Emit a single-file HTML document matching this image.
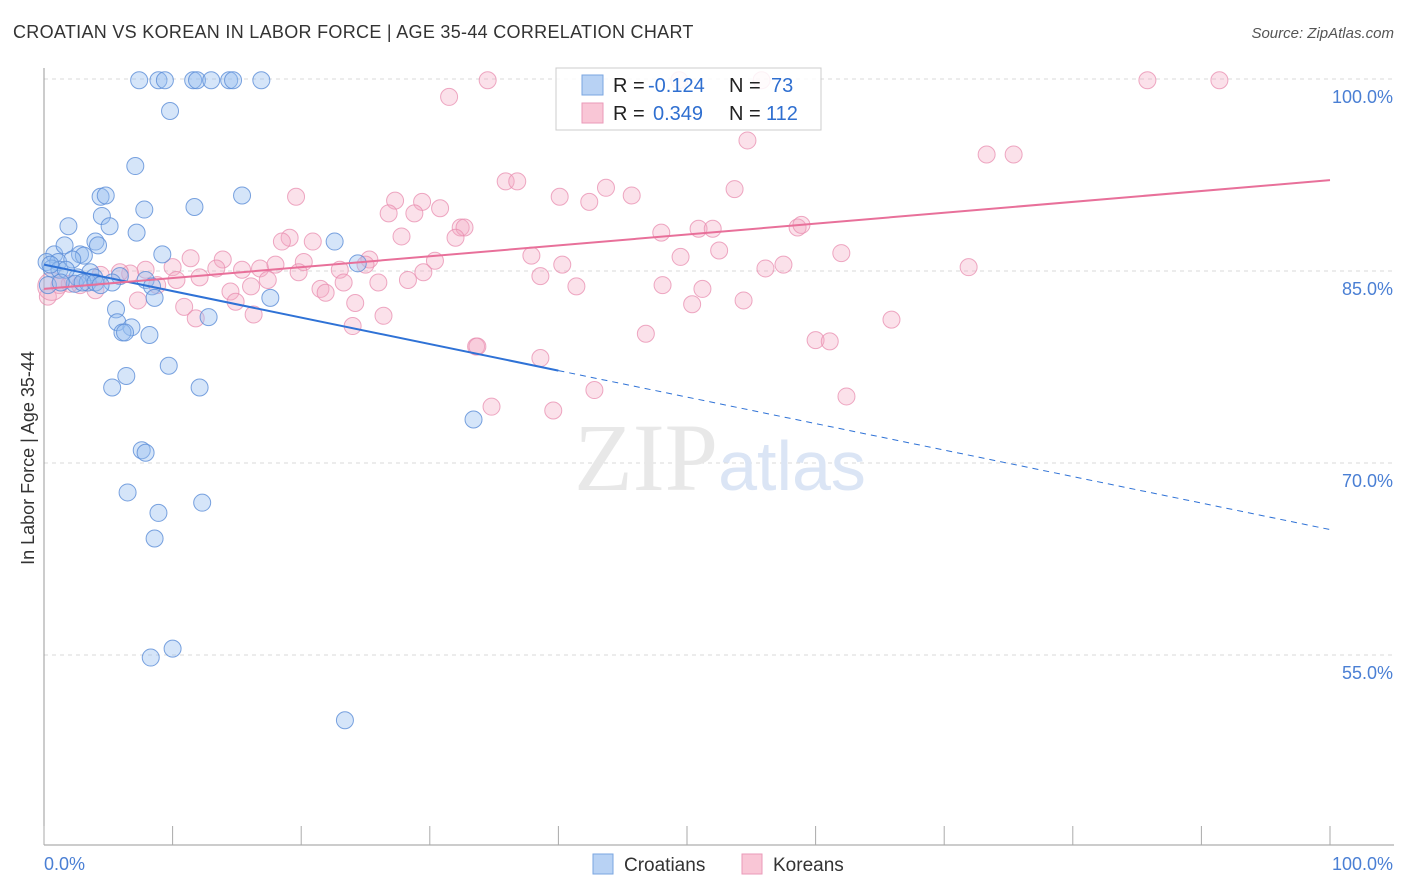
<!DOCTYPE html>
<html><head><meta charset="utf-8"><style>
body{margin:0;background:#fff;font-family:"Liberation Sans",sans-serif;}
#wrap{position:relative;width:1406px;height:892px;overflow:hidden;}
.t{position:absolute;white-space:nowrap;}
</style></head><body>
<div id="wrap">
<div class="t" style="left:13px;top:22px;font-size:18px;color:#333;letter-spacing:0.3px">CROATIAN VS KOREAN IN LABOR FORCE | AGE 35-44 CORRELATION CHART</div>
<div class="t" style="right:12px;top:25px;font-size:15px;color:#555;font-style:italic">Source: ZipAtlas.com</div>
<svg id="svg" width="1406" height="892" style="position:absolute;left:0;top:0"></svg>
</div>
<script>
const blueX=[7.4,8.9,9.4,11.6,11.9,13.0,14.4,14.7,16.9,9.8,7.1,4.4,4.8,15.4,7.8,11.7,4.5,1.9,5.1,7.2,4.0,4.2,22.6,9.2,0.8,1.6,2.8,3.1,0.2,1.1,2.2,0.6,1.2,3.6,5.9,2.6,3.9,2.4,3.4,5.3,7.9,8.4,8.6,17.6,5.6,12.8,5.7,6.8,6.1,6.3,8.2,9.7,6.4,5.3,12.1,33.4,7.6,7.9,6.5,8.9,12.3,8.6,10.0,8.3,23.4,24.4,1.7,3.0,4.0,0.5,0.3,4.4,1.3];
const blueY=[99.9,99.9,99.9,99.9,99.9,99.9,99.9,99.9,99.9,97.5,93.2,90.8,90.9,90.9,89.8,90.0,89.3,88.5,88.5,88.0,87.3,87.0,87.3,86.3,86.3,87.0,86.3,86.2,85.7,85.7,85.9,85.2,85.1,84.9,84.6,84.5,84.5,84.0,84.1,84.1,84.3,83.8,82.9,82.9,82.0,81.4,81.0,80.6,80.2,80.2,80.0,77.6,76.8,75.9,75.9,73.4,71.0,70.8,67.7,66.1,66.9,64.1,55.5,54.8,49.9,85.6,85.1,84.1,84.1,85.5,83.9,83.9,84.1];
const pinkX=[34.5,49.4,55.8,85.8,91.4,31.5,54.7,73.3,75.4,19.6,27.3,29.4,35.9,36.8,43.7,45.7,53.7,40.1,42.4,26.8,28.8,30.8,32.4,32.7,32.0,27.8,48.0,50.9,52.0,58.6,58.9,62.0,52.5,49.5,37.9,40.3,19.1,18.5,20.9,20.2,25.3,30.4,11.4,13.9,13.4,10.0,7.9,6.7,5.9,4.4,15.4,16.8,18.0,19.8,23.0,25.0,29.5,38.6,41.4,48.1,51.2,56.1,57.5,71.9,10.3,12.1,14.5,16.1,17.4,21.5,21.9,23.3,26.0,28.3,8.8,4.0,2.8,1.2,2.0,7.3,10.9,14.9,24.2,26.4,16.3,11.8,50.4,54.4,65.9,24.0,46.8,60.0,61.1,33.6,33.7,38.6,42.8,34.8,39.6,62.4,0.3,0.6];
const pinkY=[99.9,99.9,99.9,99.9,99.9,98.6,95.2,94.1,94.1,90.8,90.5,90.4,92.0,92.0,91.5,90.9,91.4,90.8,90.4,89.5,89.5,89.9,88.4,88.4,87.6,87.7,88.0,88.3,88.3,88.4,88.6,86.4,86.6,86.1,86.2,85.5,87.6,87.3,87.3,85.7,85.9,85.8,86.0,85.9,85.2,85.3,85.1,84.8,84.9,84.7,85.1,85.2,85.5,84.9,85.1,85.5,84.9,84.6,83.8,83.9,83.6,85.2,85.5,85.3,84.3,84.5,83.4,83.8,84.3,83.6,83.3,84.1,84.1,84.3,83.9,83.5,83.9,83.9,84.0,82.7,82.2,82.6,82.5,81.5,81.6,81.3,82.4,82.7,81.2,80.7,80.1,79.6,79.5,79.1,79.1,78.2,75.7,74.4,74.1,75.2,83.0,83.8];
const yTicks=[100,85,70,55];
const yTickLabels=["100.0%","85.0%","70.0%","55.0%"];
const blueTrend=[85.5,64.8]; const blueSolidEnd=40;
const pinkTrend=[83.6,92.1];

const NS="http://www.w3.org/2000/svg";
const svg=document.getElementById('svg');
const X0=44,X1=1330;
const sx=v=>X0+v/100*(X1-X0);
const sy=v=>79+(100-v)*12.8;
function el(tag,a,parent){const e=document.createElementNS(NS,tag);for(const k in a)e.setAttribute(k,a[k]);(parent||svg).appendChild(e);return e;}

yTicks.forEach((v,i)=>{
 const g=el('line',{x1:44,x2:1394,y1:sy(v),y2:sy(v),stroke:'#d8d8d8','stroke-dasharray':'4,4'});
 
 
 const t=el('text',{x:1393,y:sy(v)+24,'text-anchor':'end','font-size':18,fill:'#4a7fd4','font-family':'Liberation Sans'});
 t.textContent=yTickLabels[i];
 
 
});
const ax=el('line',{x1:44,x2:44,y1:68,y2:845,stroke:'#999'});


const bx=el('line',{x1:44,x2:1394,y1:845,y2:845,stroke:'#999'});


for(let i=0;i<=10;i++){const tk=el('line',{x1:sx(i*10),x2:sx(i*10),y1:826,y2:845,stroke:'#aaa'});
 
 }
const yl=el('text',{x:0,y:0,transform:'translate(34,458) rotate(-90)','text-anchor':'middle','font-size':18,fill:'#333','font-family':'Liberation Sans'});
yl.textContent='In Labor Force | Age 35-44';


[['0.0%',44,'start'],['100.0%',1393,'end']].forEach(([s,x,a])=>{const t=el('text',{x:x,y:870,'text-anchor':a,'font-size':18,fill:'#4a7fd4','font-family':'Liberation Sans'});t.textContent=s;
 
 });
const wm=el('text',{x:720,y:490,'text-anchor':'middle','font-size':96,'font-family':'Liberation Serif',fill:'#e8e8e8'});
wm.innerHTML='ZIP<tspan font-family="Liberation Sans" font-size="70" fill="#dbe5f5">atlas</tspan>';



pinkX.forEach((x,i)=>{const c=el('circle',{cx:sx(x),cy:sy(pinkY[i]),r:i>=pinkX.length-1?14:8.5,fill:'rgba(244,170,195,0.35)',stroke:'rgba(232,140,175,0.75)','stroke-width':1});
 
 });
blueX.forEach((x,i)=>{const c=el('circle',{cx:sx(x),cy:sy(blueY[i]),r:8.5,fill:'rgba(150,190,240,0.4)',stroke:'rgba(90,140,215,0.8)','stroke-width':1});
 
 });
const bAt=x=>blueTrend[0]+(blueTrend[1]-blueTrend[0])*x/100;
const bt=el('line',{x1:sx(0),y1:sy(bAt(0)),x2:sx(blueSolidEnd),y2:sy(bAt(blueSolidEnd)),stroke:'#2f72d6','stroke-width':2});


const bd=el('line',{x1:sx(blueSolidEnd),y1:sy(bAt(blueSolidEnd)),x2:sx(100),y2:sy(bAt(100)),stroke:'#2f72d6','stroke-width':1,'stroke-dasharray':'6,5'});


const pt=el('line',{x1:sx(0),y1:sy(pinkTrend[0]),x2:sx(100),y2:sy(pinkTrend[1]),stroke:'#e8709a','stroke-width':2});



const lg=el('g',{});


el('rect',{x:556,y:68,width:265,height:62,fill:'rgba(255,255,255,0.85)',stroke:'#ccc'},lg);
el('rect',{x:582,y:75,width:21,height:20,fill:'#b8d2f4',stroke:'#7aa6e0'},lg);
el('rect',{x:582,y:103,width:21,height:20,fill:'#f9c6d6',stroke:'#ea9ab8'},lg);
[[92,'-0.124','73'],[120,'0.349','112']].forEach(([y,r,n],i)=>{
 const t=el('text',{x:613,y:y,'font-size':20,fill:'#222','font-family':'Liberation Sans'},lg);
 t.innerHTML='R = <tspan x="'+(i?653:648)+'" fill="#2f6fd0">'+r+'</tspan><tspan x="729" fill="#222">N =</tspan><tspan x="'+(i?766:771)+'" fill="#2f6fd0">'+n+'</tspan>';
});
const bl=el('g',{});


el('rect',{x:593,y:854,width:20,height:20,fill:'#b8d2f4',stroke:'#7aa6e0'},bl);
el('rect',{x:742,y:854,width:20,height:20,fill:'#f9c6d6',stroke:'#ea9ab8'},bl);
const l1=el('text',{x:624,y:871,'font-size':19,fill:'#333','font-family':'Liberation Sans'},bl);l1.textContent='Croatians';
const l2=el('text',{x:773,y:871,'font-size':19,fill:'#333','font-family':'Liberation Sans'},bl);l2.textContent='Koreans';
</script>
</body></html>
